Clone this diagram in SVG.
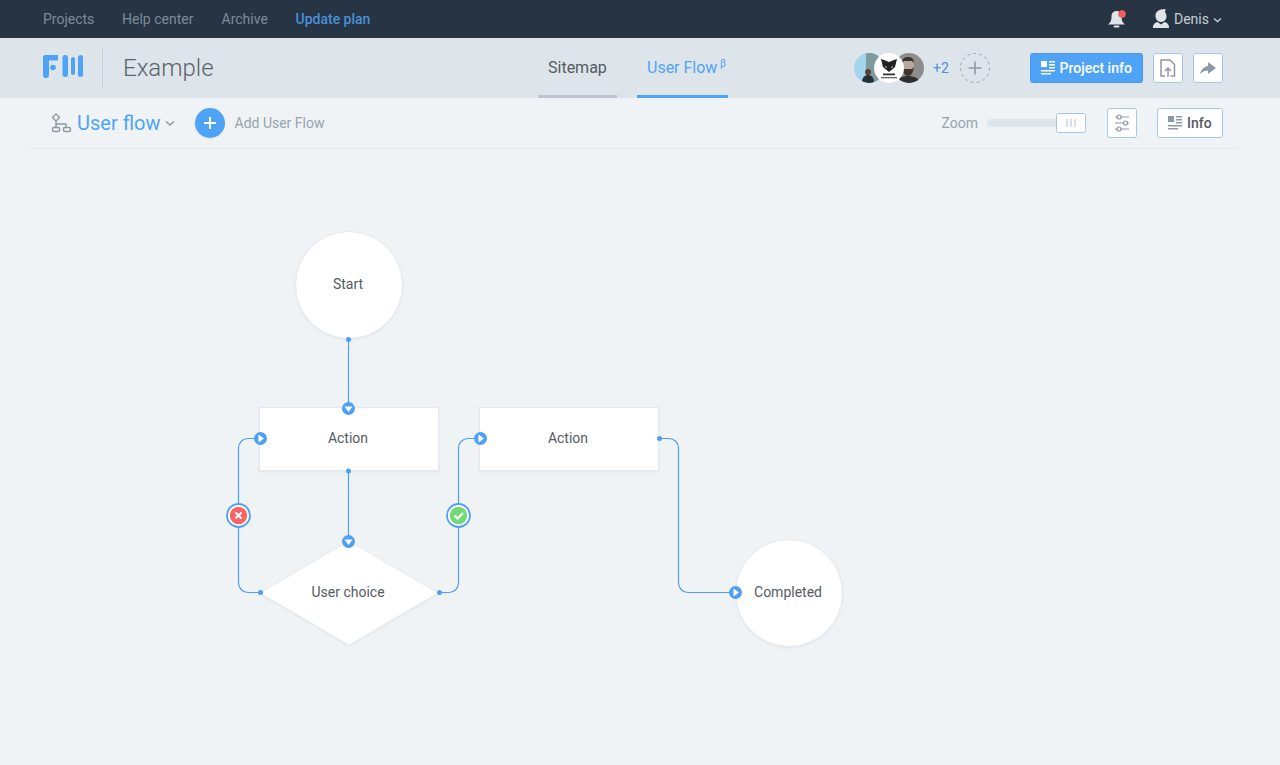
<svg xmlns="http://www.w3.org/2000/svg" width="1280" height="765" viewBox="0 0 1280 765">
<style>
text{font-family:Roboto,"Liberation Sans",sans-serif}
.nav{font-size:14px;fill:#7d8b99}
.lbl{font-size:14px;fill:#555b63;text-anchor:middle}
.node{fill:#fff;stroke:#e3e9ee;stroke-width:1}
.conn{fill:none;stroke:#4da0f5;stroke-width:1.2}
.dot{fill:#4da0f5}
.pin{fill:#4da0f5}
.tri{fill:#fff}
.btn{fill:#fff;stroke:#a5c8ea;stroke-width:1}
.ic{fill:#8b99a7}
</style>
<defs>
<filter id="sh" x="-20%" y="-20%" width="140%" height="140%"><feDropShadow dx="0" dy="1" stdDeviation="1" flood-color="#9fb0c0" flood-opacity=".2"/></filter>
<clipPath id="a1"><circle cx="869" cy="68" r="15"/></clipPath>
<clipPath id="a3"><circle cx="909" cy="68" r="15"/></clipPath>
</defs>
<rect width="1280" height="765" fill="#eff3f6"/>
<g id="topbar">
<rect width="1280" height="38" fill="#263443"/>
<text class="nav" x="43" y="24">Projects</text>
<text class="nav" x="122" y="24">Help center</text>
<text class="nav" x="221.500" y="24">Archive</text>
<text x="295.500" y="24" font-size="14" font-weight="500" fill="#4a90d9">Update plan</text>
<path d="M1116.500 11c-3.500 0-5 2.500-5 5.500 0 4-1 6-3.500 8h17c-2.500-2-3.500-4-3.500-8 0-3-1.500-5.500-5-5.500z" fill="#dfe5ea"/>
<rect x="1113.500" y="25.500" width="6" height="2" rx="1" fill="#dfe5ea"/>
<circle cx="1122" cy="14" r="3.800" fill="#f85c5c"/>
<path d="M1155.500 16c0-4 3-6 5.500-6.500l4.500-.5-.5 3.500c1 1 1.500 2.500 1.500 4 0 3-2.500 5.500-5.500 5.500s-5.500-3-5.500-6z" fill="#dfe5ea"/>
<path d="M1153 28c-.5-3 2-5.500 4.500-6l3.500 2.500 3.500-2.500c2.500.5 5 3 4.500 6z" fill="#dfe5ea"/>
<text x="1174" y="24" font-size="14" fill="#c5ced6">Denis</text>
<path d="M1214 18.500l3.500 3 3.500-3" fill="none" stroke="#c5ced6" stroke-width="1.400"/>
</g>
<g id="header">
<rect y="38" width="1280" height="60" fill="#dde5eb"/>
<path d="M45 55h13v5.500H49V75a2 2 0 0 1-6 0V57a2 2 0 0 1 2-2z" fill="#4fa3f7"/>
<circle cx="53" cy="67.500" r="2.800" fill="#4fa3f7"/>
<rect x="62.500" y="55" width="5.500" height="22" rx="2.500" fill="#4fa3f7"/>
<rect x="71" y="57" width="4" height="18" rx="2" fill="#4fa3f7"/>
<rect x="78" y="55" width="5" height="22" rx="2.500" fill="#4fa3f7"/>
<rect x="102" y="48" width="1" height="40" fill="#c6d0d8"/>
<text x="123" y="76" font-size="24" font-weight="300" fill="#5a626b">Example</text>
<text x="548" y="73" font-size="16" fill="#555b63">Sitemap</text>
<rect x="538" y="95" width="79" height="3" fill="#bcc5cf"/>
<text x="647" y="73" font-size="16" fill="#4fa3f7">User Flow</text>
<text x="720" y="67" font-size="10" fill="#4fa3f7">β</text>
<rect x="637" y="95" width="91" height="3" fill="#4fa3f7"/>
<g clip-path="url(#a1)"><rect x="854" y="53" width="30" height="30" fill="#a5d4ee"/><rect x="866" y="53" width="18" height="30" fill="#7d9a9c"/><path d="M862 83c0-6 3-8 6-8s6 2 6 8z" fill="#243038"/><circle cx="868" cy="72" r="3" fill="#5a4030"/></g>
<g clip-path="url(#a3)"><rect x="894" y="53" width="30" height="30" fill="#8d8d8d"/><ellipse cx="908" cy="66" rx="6" ry="8" fill="#b8a99c"/><path d="M902 67c1 6 3 9 6 9s5-3 6-9l-2 2h-8z" fill="#3d3530"/><path d="M902 63c0-5 3-6 6-6s6 1 6 6l-2-2h-8z" fill="#3d3530"/><path d="M896 83c1-5 6-7 12-7s11 2 12 7z" fill="#2f2f2f"/></g>
<circle cx="889" cy="68" r="15" fill="#fff"/>
<path d="M881 59l3 1 5 2 5-2 3-1-1 4-1 4-6 5-6-5-1-4z" fill="#222"/>
<path d="M885 66l2 1-1 1zM893 66l-2 1 1 1z" fill="#fff"/>
<rect x="883" y="73.500" width="12" height="1.800" fill="#333"/><rect x="881" y="77" width="16" height="1.300" fill="#666"/>
<text x="933" y="73" font-size="14" fill="#4a90d9">+2</text>
<circle cx="975" cy="68" r="14.500" fill="none" stroke="#9aa5b0" stroke-dasharray="3 3"/>
<path d="M975 61.500v13M968.500 68h13" stroke="#8b99a7" stroke-width="1.600"/>
<rect x="1030.500" y="53.500" width="112" height="29" rx="2" fill="#4fa3f7" stroke="#4a96e6"/>
<path d="M1041 61h6v6h-6zM1049 61h6v1.500h-6zM1049 64h6v1.500h-6zM1049 67h6v1.500h-6zM1041 70h14v1.500h-14zM1041 73h10v1.500h-10z" fill="#fff"/>
<text x="1059.500" y="73" font-size="14" font-weight="500" fill="#fff">Project info</text>
<rect class="btn" x="1153.500" y="53.500" width="29" height="29" rx="2"/>
<path d="M1165 76h-4v-16h9l4.500 4.500V76h-4" fill="none" stroke="#8b99a7" stroke-width="1.500"/>
<path d="M1168 77v-8.500M1165 71l3-3 3 3" fill="none" stroke="#8b99a7" stroke-width="1.500"/>
<rect class="btn" x="1193.500" y="53.500" width="29" height="29" rx="2"/>
<path d="M1208 62l8 6-8 6v-3.500c-3 0-5.500 1-8 3.500 1-4 4-7.500 8-8z" class="ic"/>
</g>
<g id="toolbar">
<g fill="none" stroke="#8b99a7" stroke-width="1.400"><path d="M56 114l3.500 3.500-3.500 3.500-3.500-3.500zM56 121v6M56 124h10v3"/><rect x="52.500" y="127.500" width="7" height="4" rx="1.500"/><rect x="63.500" y="127.500" width="7" height="4" rx="1.500"/></g>
<text x="77" y="130" font-size="20" fill="#4fa3f7">User flow</text>
<path d="M166 121.500l4 3.500 4-3.500" fill="none" stroke="#8b99a7" stroke-width="1.500"/>
<circle cx="210" cy="123" r="15" fill="#4fa3f7" filter="url(#sh)"/>
<path d="M210 117v12M204 123h12" stroke="#fff" stroke-width="2"/>
<text x="234.500" y="128" font-size="14" fill="#98a3ae">Add User Flow</text>
<text x="941.500" y="128" font-size="14" fill="#98a3ae">Zoom</text>
<rect x="987" y="119" width="72" height="8" rx="4" fill="#dfe6eb"/>
<rect class="btn" x="1056.500" y="113.500" width="29" height="19" rx="2"/>
<path d="M1067 119v8M1071 119v8M1075 119v8" stroke="#c5ced6" stroke-width="1.300"/>
<rect class="btn" x="1107.500" y="108.500" width="29" height="29" rx="2"/>
<path d="M1115 117h14M1115 123h14M1115 129h14" stroke="#8b99a7" stroke-width="1.200"/>
<g fill="#fff" stroke="#8b99a7" stroke-width="1.200"><circle cx="1119" cy="117" r="2"/><circle cx="1125.500" cy="123" r="2"/><circle cx="1119" cy="129" r="2"/></g>
<rect class="btn" x="1157.500" y="108.500" width="65" height="29" rx="2"/>
<path d="M1168 116h6v6h-6zM1176 116h6v1.500h-6zM1176 119h6v1.500h-6zM1176 122h6v1.500h-6zM1168 125h14v1.500h-14zM1168 128h10v1.500h-10z" class="ic"/>
<text x="1187" y="128" font-size="14" font-weight="500" fill="#555b63">Info</text>
<rect x="28" y="148" width="1209" height="1" fill="#e2e8ed"/>
</g>
<g id="node-start"><circle class="node" cx="349" cy="285" r="53.500" filter="url(#sh)"/><text class="lbl" x="348" y="289">Start</text></g>
<g id="node-action1"><rect class="node" x="259.500" y="407.500" width="179" height="63" filter="url(#sh)"/><text class="lbl" x="348" y="443">Action</text></g>
<g id="node-action2"><rect class="node" x="479.500" y="407.500" width="179" height="63" filter="url(#sh)"/><text class="lbl" x="568" y="443">Action</text></g>
<g id="node-choice"><path d="M349 541L438 593L349 645L260 593Z" fill="#fff" stroke="#e8edf1" filter="url(#sh)"/><text class="lbl" x="348" y="597">User choice</text></g>
<g id="node-completed"><circle class="node" cx="789" cy="593" r="53.500" filter="url(#sh)"/><text class="lbl" x="788" y="597">Completed</text></g>
<g id="connectors">
<path class="conn" d="M348.500 340V408"/>
<path class="conn" d="M348.500 471V541"/>
<path class="conn" d="M260.500 592.500H248a9.500 9.500 0 0 1-9.500-9.500V448a9.500 9.500 0 0 1 9.500-9.500H260"/>
<path class="conn" d="M439.500 592.500H449a9.500 9.500 0 0 0 9.500-9.500V448a9.500 9.500 0 0 1 9.500-9.500H480"/>
<path class="conn" d="M659.500 438.500H669a9.500 9.500 0 0 1 9.500 9.500V583a9.500 9.500 0 0 0 9.500 9.500H735"/>
<circle class="dot" cx="348.500" cy="339.500" r="2.500"/>
<circle class="dot" cx="348.500" cy="471" r="2.500"/>
<circle class="dot" cx="260.500" cy="592.500" r="2.500"/>
<circle class="dot" cx="439.500" cy="592.500" r="2.500"/>
<circle class="dot" cx="659.500" cy="438.500" r="2.500"/>
<circle class="pin" cx="348.500" cy="408.500" r="6.500"/><path class="tri" d="M344.500 406.500h8l-4 5.500z"/>
<circle class="pin" cx="348.500" cy="541.500" r="6.500"/><path class="tri" d="M344.500 539.500h8l-4 5.500z"/>
<circle class="pin" cx="260.500" cy="438.500" r="6.500"/><path class="tri" d="M258.500 434.500v8l5.500-4z"/>
<circle class="pin" cx="480.500" cy="438.500" r="6.500"/><path class="tri" d="M478.500 434.500v8l5.500-4z"/>
<circle class="pin" cx="735.500" cy="592.500" r="6.500"/><path class="tri" d="M733.500 588.500v8l5.500-4z"/>
<g><circle cx="238.500" cy="515.500" r="11.500" fill="#fff" stroke="#4da0f5" stroke-width="1.800"/><circle cx="238.500" cy="515.500" r="8.700" fill="#f86464"/><path d="M235.500 512.500l6 6M241.500 512.500l-6 6" stroke="#fff" stroke-width="2"/></g>
<g><circle cx="458.500" cy="515.500" r="11.500" fill="#fff" stroke="#4da0f5" stroke-width="1.800"/><circle cx="458.500" cy="515.500" r="8.700" fill="#74d874"/><path d="M454.500 515.500l3 3 5.500-5.500" fill="none" stroke="#fff" stroke-width="2"/></g>
</g>
</svg>
